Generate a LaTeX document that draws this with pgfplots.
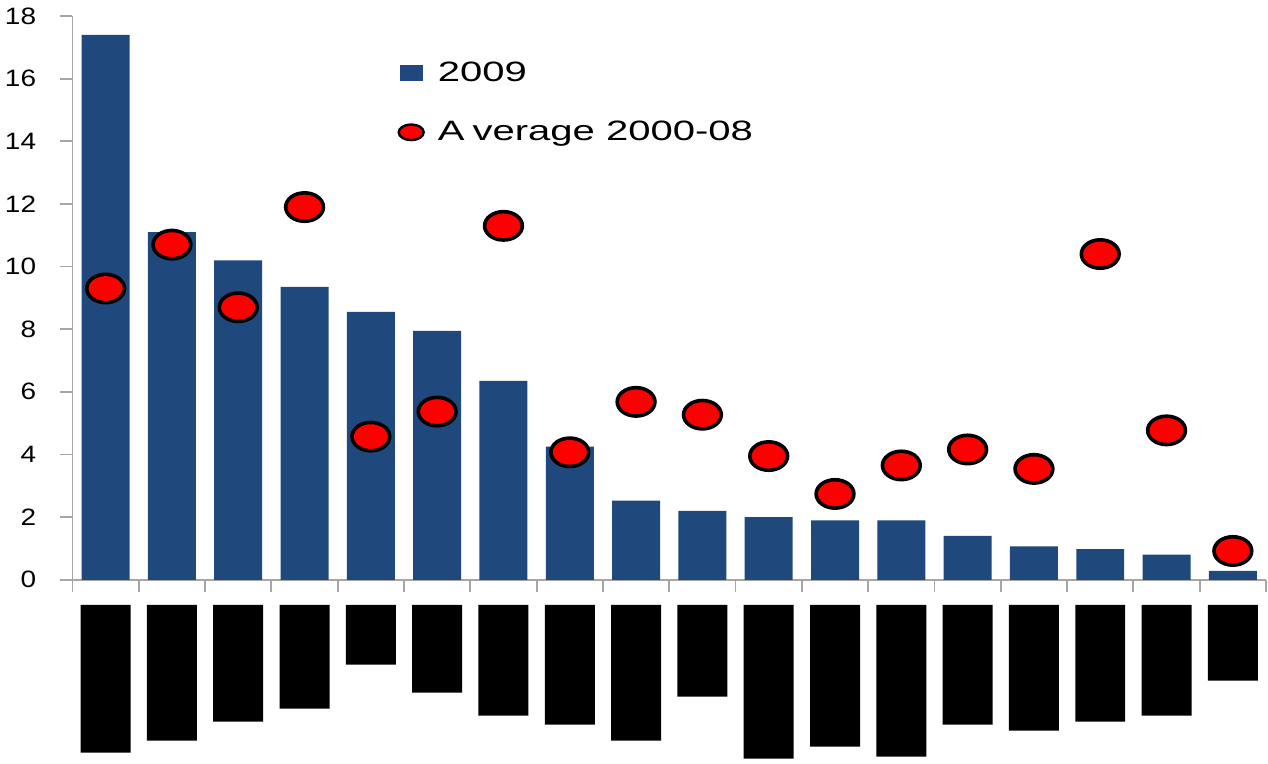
\documentclass[border=0pt]{standalone}
\usepackage{fontspec}
\setmainfont{Liberation Sans}
\newfontfamily\tickfont[FakeStretch=1.18]{Liberation Sans}
\newfontfamily\legfont[FakeStretch=1.43]{Liberation Sans}
\usepackage{pgfplots}
\usepackage{pgfplotstable}
\pgfplotsset{compat=1.18}
\usetikzlibrary{calc}

\definecolor{barblue}{HTML}{1F497D}
\definecolor{axisgray}{HTML}{A6A6A6}

% x: category, val: 2009, avg: average 2000-08, len: height of blacked-out label (px)
\pgfplotstableread{
x  val   avg   len
0  17.4  9.3   148
1  11.1  10.7  136
2  10.2  8.7   117
3  9.35  11.9  104
4  8.55  4.57  60
5  7.95  5.37  88
6  6.35  11.3  111
7  4.25  4.07  120
8  2.53  5.68  136
9  2.2   5.27  92
10 2.0   3.95  154
11 1.9   2.74  142
12 1.9   3.65  152
13 1.4   4.16  120
14 1.07  3.54  126
15 0.98  10.4  117
16 0.8   4.77  111
17 0.28  0.92  76
}\data

\begin{document}
\begin{tikzpicture}
\begin{axis}[
    name=main,
    scale only axis,
    width=597pt, height=282pt,
    xmin=-0.5, xmax=17.5,
    ymin=0, ymax=18,
    axis lines*=left,
    axis line style={axisgray, line width=0.9pt},
    tick style={axisgray, line width=0.9pt},
    tick align=outside,
    major tick length=6pt,
    ytick={0,2,...,18},
    xtick={-0.5,0.5,...,17.5},
    xticklabels={},
    /pgf/number format/assume math mode=true,
    yticklabel style={font=\tickfont\fontsize{11.85pt}{14pt}\selectfont, inner sep=0pt, xshift=-12pt},
    legend cell align=left,
    legend style={
        draw=none, fill=none,
        at={(0.272,0.92)}, anchor=north west,
        font=\legfont\fontsize{14pt}{16pt}\selectfont,
        inner sep=0pt,
        row sep=18.5pt,
        column sep=6.5pt,
        nodes={inner sep=0pt},
    },
]
\addplot[ybar, bar width=24pt, bar shift=0pt, fill=barblue, draw=none,
    legend image code/.code={\fill[barblue] (0pt,-4pt) rectangle (11.5pt,4pt);}]
    table[x=x, y=val] {\data};
\addlegendentry{2009}
\addplot[only marks, mark=*, mark size=7.1pt,
    mark options={fill=red, draw=black, line width=1.8pt, xscale=1.33},
    legend image code/.code={\draw[fill=red, draw=black, line width=1.2pt] (5.75pt,0pt) ellipse [x radius=6.25pt, y radius=3.9pt];}]
    table[x=x, y=avg] {\data};
\addlegendentry{A\kern4pt verage 2000-08}
\end{axis}

\begin{axis}[
    at={($(main.south west)+(0pt,-12.5pt)$)}, anchor=north west,
    scale only axis,
    width=597pt, height=80pt,
    xmin=-0.5, xmax=17.5,
    ymin=-160, ymax=0,
    hide axis,
]
\addplot[ybar, bar width=25pt, bar shift=0pt, fill=black, draw=none]
    table[x=x, y expr=-\thisrow{len}] {\data};
\end{axis}

\pgfresetboundingbox
\path ($(main.north west)+(-36.25pt,8pt)$) rectangle ($(main.south east)+(1pt,-92pt)$);
\end{tikzpicture}
\end{document}
